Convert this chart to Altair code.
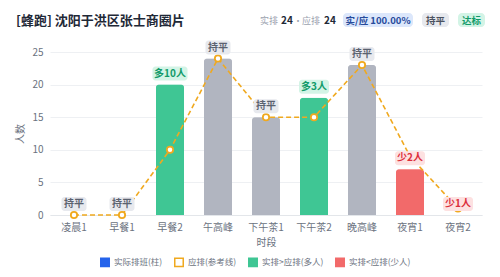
import altair as alt
import pandas as pd

# ---------------- data ----------------
slots = ["凌晨1", "早餐1", "早餐2", "午高峰", "下午茶1", "下午茶2", "晚高峰", "夜宵1", "夜宵2"]
actual = [0, 0, 20, 24, 15, 18, 23, 7, 0]
planned = [0, 0, 10, 24, 15, 15, 23, 9, 1]
tags = ["持平", "持平", "多10人", "持平", "持平", "多3人", "持平", "少2人", "少1人"]
legend_items = ["实际排班(柱)", "应排(参考线)", "实排>应排(多人)", "实排<应排(少人)"]
y_ticks = [0, 5, 10, 15, 20, 25]
header_title = "[蜂跑] 沈阳于洪区张士商圈片"
total_actual = 24
total_planned = 24
ratio_text = "实/应 100.00%"
summary_tags = ["持平", "达标"]

FONT = "Noto Sans CJK SC"
GREEN = "#3fc694"
RED = "#f26a6a"
GRAY = "#b1b5c0"
BLUE = "#2563eb"
ORANGE = "#f0a91f"


def status_of(t):
    if t.startswith("多"):
        return legend_items[2]
    if t.startswith("少"):
        return legend_items[3]
    return "持平"


def badge_colors(t):
    if t.startswith("多"):
        return "#d3f4e6", "#129b6a"
    if t.startswith("少"):
        return "#fde1e1", "#dc2f3c"
    return "#e7e9ee", "#5b6270"


def badge_path(w, h=14.0, r=3.0, unit=10.0):
    hw, hh, rr = w / 2 / unit, h / 2 / unit, r / unit
    return (f"M{-hw+rr},{-hh} H{hw-rr} A{rr},{rr} 0 0 1 {hw},{-hh+rr} "
            f"V{hh-rr} A{rr},{rr} 0 0 1 {hw-rr},{hh} H{-hw+rr} "
            f"A{rr},{rr} 0 0 1 {-hw},{hh-rr} V{-hh+rr} A{rr},{rr} 0 0 1 {-hw+rr},{-hh} Z")


def badge_width(t):
    cjk = sum(1 for c in t if ord(c) > 255)
    other = len(t) - cjk
    return 5 + 10 * cjk + 5 * other


df = pd.DataFrame({
    "时段": slots,
    "actual": actual,
    "planned": planned,
    "tag": tags,
})
df["status"] = [status_of(t) for t in tags]
df["bg"] = [badge_colors(t)[0] for t in tags]
df["fg"] = [badge_colors(t)[1] for t in tags]
df["shape"] = [badge_path(badge_width(t)) for t in tags]

x_scale = alt.Scale(paddingInner=0, paddingOuter=0)
x_axis = alt.Axis(title="时段", labelAngle=0, ticks=False, domainColor="#e3e6ea",
                  labelPadding=7, titlePadding=5)
y_scale = alt.Scale(domain=[0, 25], nice=False)
y_axis = alt.Axis(title="人数", values=y_ticks, domain=False, ticks=False,
                  gridColor="#eef0f3", labelPadding=7, titlePadding=6,
                  labelOverlap=False)


def y_of(field):
    return alt.Y(f"{field}:Q", scale=y_scale, axis=y_axis)


def x_of():
    return alt.X("时段:N", sort=slots, scale=x_scale, axis=x_axis)


status_domain = legend_items + ["持平"]
fill_range = [BLUE, "#ffffff", GREEN, RED, GRAY]
stroke_range = [BLUE, ORANGE, GREEN, RED, GRAY]

legend_def = dict(values=legend_items, title=None, orient="none",
                  direction="horizontal", legendX=50, legendY=205,
                  symbolType="square", symbolSize=72,
                  symbolStrokeWidth=1.5, labelFontSize=8.5,
                  labelColor="#6b7280", labelOffset=4,
                  columnPadding=8, padding=0, labelFont=FONT)

base = alt.Chart(df)

bars = base.mark_bar(size=28, cornerRadiusTopLeft=3, cornerRadiusTopRight=3).encode(
    x=x_of(),
    y=y_of("actual"),
    fill=alt.Fill("status:N", scale=alt.Scale(domain=status_domain, range=fill_range),
                  legend=alt.Legend(**legend_def)),
    stroke=alt.Stroke("status:N", scale=alt.Scale(domain=status_domain, range=stroke_range),
                      legend=alt.Legend(**legend_def)),
)

line = base.mark_line(color=ORANGE, strokeDash=[5, 3], strokeWidth=1.6).encode(
    x=x_of(), y=y_of("planned"),
)

pts = base.mark_point(filled=True, fill="white", stroke=ORANGE, strokeWidth=1.8,
                      size=40, opacity=1).encode(
    x=x_of(), y=y_of("planned"),
)

badges = base.mark_point(filled=True, size=400, yOffset=-11, opacity=1, strokeWidth=0).encode(
    x=x_of(), y=y_of("actual"),
    shape=alt.Shape("shape:N", scale=None, legend=None),
    color=alt.Color("bg:N", scale=None, legend=None),
)

badge_text = base.mark_text(fontSize=10, fontWeight="bold", yOffset=-11,
                            baseline="middle", font=FONT).encode(
    x=x_of(), y=y_of("actual"),
    text="tag:N",
    color=alt.Color("fg:N", scale=None, legend=None),
)

# ---------------- header ----------------
one = pd.DataFrame({"k": [0]})


def htext(text, x, y=-31, size=9, weight="normal", color="#9ca3af", align="left"):
    return alt.Chart(one).mark_text(text=text, fontSize=size, fontWeight=weight,
                                    color=color, align=align, baseline="middle",
                                    font=FONT).encode(x=alt.value(x), y=alt.value(y))


def hrect(x0, x1, color, y0=-39, y1=-25):
    return alt.Chart(one).mark_rect(color=color, cornerRadius=4).encode(
        x=alt.value(x0), x2=alt.value(x1), y=alt.value(y0), y2=alt.value(y1))


header = [
    htext(header_title, -34, size=13, weight="bold", color="#1f2937"),
    htext("实排", 210),
    htext(str(total_actual), 231, size=10, weight="bold", color="#1f2937"),
    htext("·", 248, align="center"),
    htext("应排", 252),
    htext(str(total_planned), 274, size=10, weight="bold", color="#1f2937"),
    hrect(293, 363, "#dce7fb"),
    htext(ratio_text, 328, size=9.5, weight="bold", color="#274b9c", align="center"),
    hrect(372, 399, "#e7e9ee"),
    htext(summary_tags[0], 385.5, size=9.5, weight="bold", color="#4b5260", align="center"),
    hrect(408, 435, "#d3f4e6"),
    htext(summary_tags[1], 421.5, size=9.5, weight="bold", color="#129b6a", align="center"),
]

chart = alt.layer(bars, line, pts, badges, badge_text, *header).properties(
    width=432, height=163,
    autosize=alt.AutoSizeParams(type="none"),
    padding={"left": 50, "top": 52, "right": 18, "bottom": 62},
    background="white",
).configure(font=FONT).configure_view(stroke=None).configure_axis(
    labelFontSize=10, labelColor="#6b7280", titleFontSize=10, titleColor="#6b7280",
    titleFontWeight="normal", labelFont=FONT, titleFont=FONT,
)

chart.save("out.html", embed_options={"renderer": "svg", "actions": False})
